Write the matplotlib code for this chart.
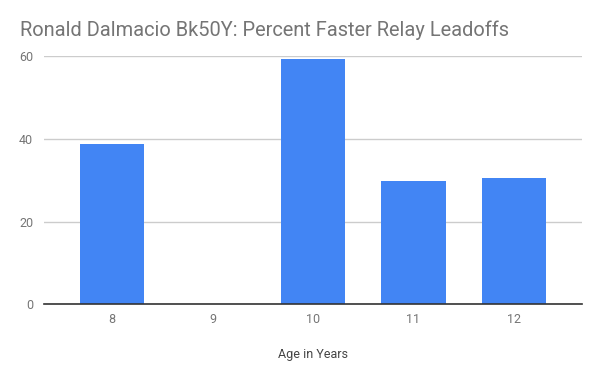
import matplotlib
matplotlib.use("Agg")
import matplotlib.pyplot as plt

categories = ["8", "9", "10", "11", "12"]
values = [38.7, 0, 59.3, 29.8, 30.6]
yticks = [0, 20, 40, 60]

plt.rcParams['font.family'] = ['Roboto', 'DejaVu Sans']

fig = plt.figure(figsize=(6, 3.71), dpi=100)
ax = fig.add_axes([44.3/600, 1-304.3/371, (581.7-44.3)/600, (304.3-56.3)/371])

x = list(range(len(categories)))
ax.bar(x, values, width=0.645, color="#4285F4", zorder=3)
ax.set_xlim(-0.675, 4.675)
ax.set_ylim(0, 60)
ax.set_yticks(yticks)
ax.set_yticklabels([str(t) for t in yticks])
ax.set_xticks(x)
ax.set_xticklabels(categories)
ax.grid(axis='y', color="#cccccc", linewidth=1, zorder=0)
for s in ['top', 'right', 'left']:
    ax.spines[s].set_visible(False)
ax.spines['bottom'].set_color("#333333")
ax.spines['bottom'].set_linewidth(1.2)
ax.spines['bottom'].set_zorder(4)
ax.tick_params(axis='both', length=0, labelsize=9, labelcolor="#757575")
ax.tick_params(axis='y', pad=8)
ax.tick_params(axis='x', pad=6)
ax.set_xlabel("Age in Years", fontsize=9, color="#444444", labelpad=16)
fig.text(19.5/600, 1-30/371, "Ronald Dalmacio Bk50Y: Percent Faster Relay Leadoffs",
         fontsize=14.4, color="#757575", va='center', ha='left')

fig.savefig("out.png", dpi=100)
